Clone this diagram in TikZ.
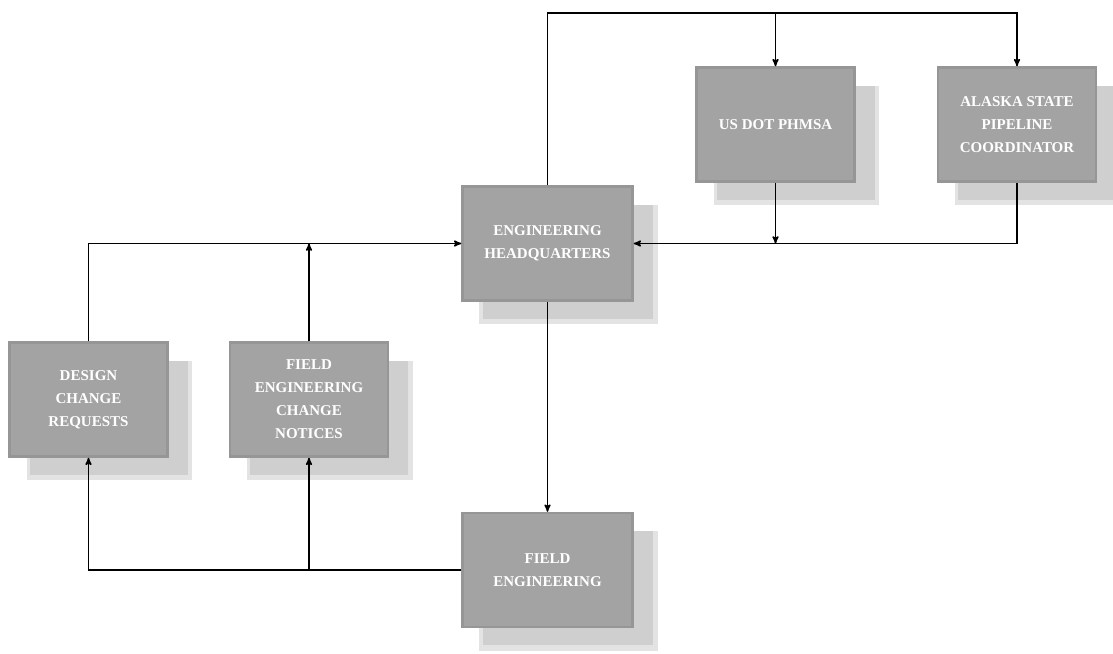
\documentclass[tikz,border=0pt]{standalone}
\usepackage{fontspec}
\setmainfont{Liberation Serif}
\usepackage{tikz}
\usetikzlibrary{positioning,arrows,shadows}

\begin{document}
\begin{tikzpicture}[x=1pt,y=-1pt, >=stealth', line width=1.5pt,
	box/.style={rectangle, minimum width=158pt, minimum height=114pt, inner sep=0pt,
		fill=gray!72, draw=gray!82, line width=2.5pt, text=white, align=center,
		font=\fontsize{15}{23}\selectfont\bfseries,
		general shadow={shadow xshift=20pt, shadow yshift=-20pt, shadow scale=1.05,
			fill=gray!22, rounded corners=14pt},
		general shadow={shadow xshift=20pt, shadow yshift=-18pt,
			fill=gray!38, rounded corners=10pt}},
	widebox/.style={box, minimum width=170pt}]
	\useasboundingbox (0,0) rectangle (1113,653);
	%top row
	\node(ehq)[widebox] at (547.5,243.5) {ENGINEERING\\HEADQUARTERS};
	\node(dot)[box] at (775.5,124.5) {US DOT PHMSA};
	\node(ak)[box,right=81pt of dot] {ALASKA STATE\\PIPELINE\\COORDINATOR};
	%left row
	\node(dcr)[box] at (88.5,399.5) {DESIGN\\CHANGE\\REQUESTS};
	\node(fecn)[box,right=60pt of dcr] {FIELD\\ENGINEERING\\CHANGE\\NOTICES};
	\node(fe)[widebox,below=210pt of ehq] {FIELD\\ENGINEERING};
	\coordinate(top) at (547.5,13);
	%notices up to headquarters
	\draw[->] (ehq.north) -- (top) -| (ak.north);
	\draw[->] (dot.north |- top) -- (dot.north);
	\draw[->] (ak.south) |- (ehq.east);
	\draw[->] (dot.south) -- (dot.south |- ehq.east);
	\draw[->] (dcr.north) |- (ehq.west);
	\draw[->] (fecn.north) -- (fecn.north |- ehq.west);
	%headquarters down to field
	\draw[->] (ehq.south) -- (fe.north);
	\draw[->] (fe.west) -| (dcr.south);
	\draw[->] (fecn.south |- fe.west) -- (fecn.south);
\end{tikzpicture}
\end{document}
